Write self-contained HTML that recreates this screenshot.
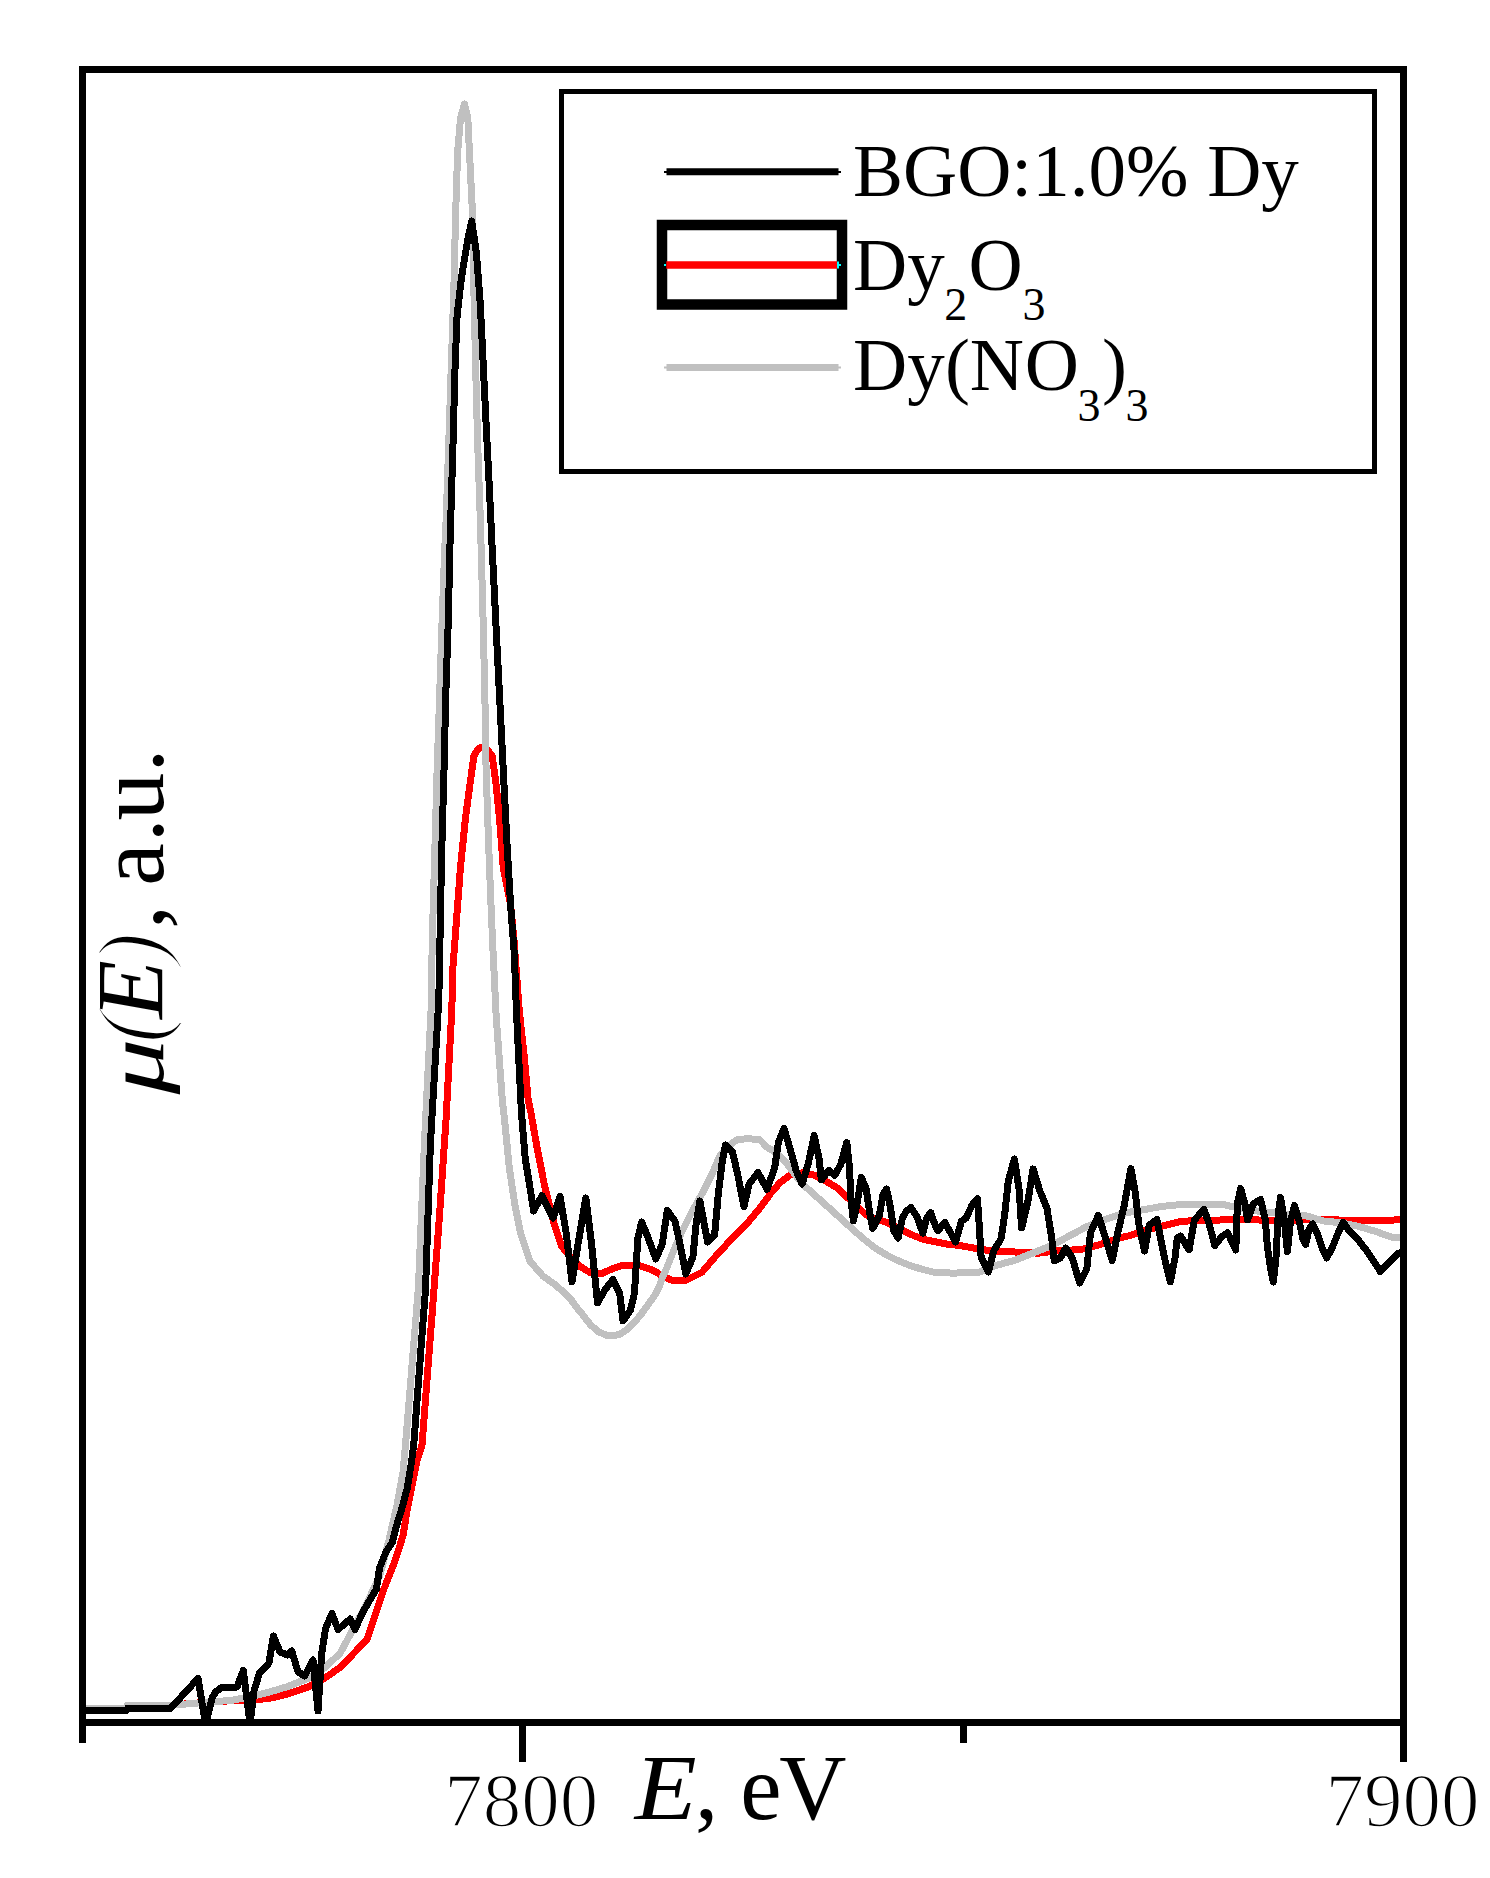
<!DOCTYPE html>
<html><head><meta charset="utf-8"><style>
html,body{margin:0;padding:0;background:#fff;width:1490px;height:1878px;overflow:hidden}
svg{display:block}
text{font-family:"Liberation Serif",serif;fill:#000}
</style></head><body>
<svg width="1490" height="1878" viewBox="0 0 1490 1878">
<defs><clipPath id="pc"><rect x="82.5" y="69.5" width="1321" height="1653"/></clipPath></defs>
<g clip-path="url(#pc)" shape-rendering="crispEdges" fill="none" stroke-linejoin="round" stroke-linecap="butt">
<polyline stroke="#ff0000" stroke-width="7" points="82,1708.5 126,1708.3 170,1705.4 191,1703.4 213,1701.9 230,1700.8 240,1700.8 269,1698.5 287.4,1694 308.9,1686.7 325,1678 340,1667.4 355,1652 366.8,1640 375.4,1614.6 383.9,1589 394.5,1562.4 403,1535.8 407.3,1509.2 412.6,1482.6 416.9,1461.3 422,1445 432.3,1311.8 439.5,1215.8 446,1120 451.8,1010 453,966.4 456.7,917.4 460.4,868.4 465.3,819.4 470.2,782.7 473.9,756 478,749 482,747 487,749 492.2,756 495.9,782.7 499.6,819.4 503.3,868.4 510.6,905 514,940 519.2,1010 524.2,1055.9 528.2,1100 530.8,1111.9 537.3,1149 544.7,1186.4 554,1223.7 561.5,1246 570.8,1257.3 580.2,1266.6 589.5,1272.2 600.7,1274 611.9,1269 623,1265 638,1265 652,1269.8 662.2,1275.6 671.1,1280 686.5,1280 701.8,1272.4 717.2,1254.5 735,1235.3 747.8,1222.5 760.6,1207.2 770.9,1193.1 779.8,1182.9 790,1175.2 802.1,1172.8 814.2,1175.2 826.2,1181.3 838.3,1188.5 846.8,1197 856.4,1205.4 864.9,1213.9 874.6,1218.7 886.6,1222.3 898.7,1228.4 910.8,1234.4 922.9,1239.3 935,1241.7 947,1244.1 960,1245.5 972.1,1247.8 990.2,1250.8 1014.4,1252 1038.5,1253.2 1056.6,1250.8 1080.8,1249.6 1098.9,1244.8 1117,1238.7 1130,1235.5 1146.1,1230 1162.2,1226.2 1178.3,1222 1194.4,1220.3 1237.4,1219.8 1290,1220.3 1321.9,1219.5 1371.6,1221 1406,1219.5"/>
<polyline stroke="#c0c0c0" stroke-width="7" points="82,1708 126,1708 127,1705.5 170,1705.5 191,1703.5 213,1702 233.7,1700 250,1696.8 266,1693 287.4,1686.7 308.9,1678 325,1667.4 340,1653.4 357,1622 367,1603 380,1575 389,1540 397,1505 403,1472 405.5,1445 418.4,1287.8 424.4,1143.9 431.3,1005 432.2,942 434.7,856 437.1,770.4 439.6,697 442,623.5 444.7,550 446.3,516 448.8,440.9 451.3,365.7 453.8,290.5 455.6,215.3 457.6,152.6 460.5,118 464.5,104 467.8,118 470.1,165.2 472.6,215.3 473.9,290.5 475.6,365.7 477.6,440.9 480.2,516 481.2,550 483.2,623.5 484.9,697 486.1,770.4 488.6,843.9 491,905 492.5,940 496.2,1016.7 502.3,1100 504.7,1121.2 509.3,1167.8 514.9,1205 520.5,1233 529.8,1261 542.9,1276 555.9,1285.2 570,1298.2 576.7,1307.6 583.4,1315.6 590.1,1324.4 598.2,1331.7 606.2,1335.1 613,1335.6 619.7,1334.4 627.7,1329 634.4,1322.3 641.1,1314.3 647.9,1304.9 654.6,1295.5 659.3,1286.8 662.6,1276.7 666,1269.8 673.7,1250.6 681.4,1232.7 691.6,1212.3 703.1,1191.8 712,1173.9 719.7,1156 728.7,1145.8 737.6,1139.4 747.8,1138.8 759.4,1139.4 767,1147.1 777.2,1153.5 784.9,1161.1 792.6,1171.4 802.1,1183.7 814.2,1194.6 826.2,1205.4 838.3,1216.3 850.4,1227.2 862.5,1238 874.6,1247.7 886.6,1255 898.7,1261 910.8,1265.8 922.9,1269.5 935,1272.5 953.1,1273.1 978.1,1272.5 996.2,1265.3 1014.4,1260.5 1032.5,1253.2 1050.6,1246 1068.7,1236.3 1086.8,1226.6 1105,1219.4 1123.1,1213.4 1140,1210.3 1162.2,1206.4 1183.7,1204.2 1205.2,1204.2 1224.5,1204.8 1248.1,1210.1 1269.6,1212.3 1290,1214.4 1306.2,1215.8 1323.6,1221 1341.1,1222.8 1358.5,1226.3 1376,1231.6 1393.4,1237.7 1406,1238.1"/>
<polyline stroke="#000" stroke-width="7" points="82,1710.2 127,1710.2 127.5,1708.4 170.6,1708.4 198,1678.5 205.5,1724 212.5,1697 216,1691.5 222.5,1687 237,1687 243.3,1670.5 250,1724 254,1691 259.5,1673 266,1667 269,1663 273.4,1636 280,1652 287.4,1655 291.7,1651 298,1671.7 304.6,1676 313,1660 318,1711 321.7,1653.4 325.5,1628.7 332,1613.5 338,1629.5 350.3,1619 355,1629.5 362.6,1612.5 370,1599.7 376.4,1589 379.6,1567.8 386,1551.8 392.4,1542.2 396.7,1525.2 402,1508 407.3,1488 411.6,1461.3 413.7,1445 425.6,1287.8 430.4,1143.9 438.8,1000 441.6,856 444,770.4 445.7,697 448.2,623.5 450.1,540 453.1,440.9 455.1,365.7 457.1,315.6 461.4,278 467.6,240.4 471.7,221 476.4,252.9 480.2,303 482.7,353.2 485.7,415.8 488.9,478.5 492.5,555 495.9,623.5 499.6,697 503.3,770.4 507,843.9 510.6,905 514.3,954 516.4,1010 518.6,1055.9 521.4,1111.9 525.2,1158.5 529.8,1186.4 533.6,1211 542,1195.7 553.1,1218 560,1196.5 566.2,1233 572,1282 578.3,1242.4 585.8,1198 591.4,1242.4 597.5,1303 604.9,1290 613,1279.5 619.7,1293.5 623,1321 630.4,1310.3 634.4,1293.5 637.9,1237.8 641.7,1222 648.1,1237.8 655.8,1259 662.2,1244.2 667.3,1210.5 675,1221.2 680,1244.2 685.8,1274 692.9,1257 696,1225 699.9,1201 704.4,1225 707.6,1242 714.6,1235.3 718.4,1193.1 722.3,1161.1 725.5,1145 732.5,1152.2 737.6,1173.9 744,1206.5 749.1,1184.1 758,1172.5 767,1189.3 774.7,1167.5 778.5,1142 784,1128.5 790,1148.4 796.4,1171.4 802.1,1184 808.1,1164.4 814.2,1135.5 819,1158.3 821.4,1180 828.7,1170.4 834.7,1175.2 840.7,1164.4 846.8,1142.5 849.8,1170.4 850.4,1194.6 853.4,1221 857.6,1200.6 861.3,1177.5 866.1,1188.5 869.7,1212.7 872.7,1228.5 879.4,1215.1 883,1194.6 886.6,1189 890.3,1206.6 893.9,1230.8 898.1,1238 902.3,1218.7 906,1211.5 910.8,1207.5 916.8,1216.3 922.9,1233.2 926.5,1218.7 930.7,1212.5 935,1224.8 938,1230.8 944.6,1222.3 949.5,1230.8 955.5,1242 961.5,1221.1 966,1218.2 972.1,1204.9 977.5,1198.5 979.3,1226.6 981.1,1256.8 988.4,1272 993.8,1250.8 1001.1,1238.7 1004.7,1214.6 1008.3,1180.7 1014.4,1159 1019.2,1190.4 1021.6,1228 1027.7,1202.5 1033.1,1169 1039.7,1190.4 1047,1208.5 1051.8,1238.7 1054.2,1261 1060.3,1258 1065.7,1248 1072.3,1258 1079.6,1283 1086.8,1268.9 1090.5,1232.7 1098.3,1215.5 1105,1236.3 1112.2,1260.5 1117,1236.3 1124.3,1204.9 1130.9,1168.5 1135.4,1193 1138.6,1223 1144.5,1251 1149.3,1225.2 1156.8,1219.5 1160.1,1236 1164.4,1257.4 1170.3,1282 1175.1,1257.4 1177.2,1238 1180.5,1236 1189.1,1249.9 1194.4,1219.8 1204.1,1209.5 1209.5,1225.2 1214.8,1245.6 1221.3,1237 1227.7,1232.7 1235.8,1249.9 1237.4,1203.7 1240.6,1188.5 1244.9,1203.7 1247.6,1219.8 1253.5,1203.7 1260.5,1199.4 1265.3,1219.8 1267.4,1246.6 1270.7,1269.2 1273.4,1282 1276,1257.4 1278.2,1214.4 1280.5,1197.5 1284.4,1221 1287.4,1251.5 1290.5,1221 1294.4,1205.5 1299.2,1221 1302.7,1238.5 1305.7,1244.5 1308.8,1229.8 1312.7,1224 1317.5,1234.2 1321.9,1247.3 1326.7,1258 1332.4,1247.3 1337.6,1234.2 1343.3,1222.5 1349.8,1231.6 1358.5,1240.3 1367.3,1251.6 1376,1264.7 1380.3,1271.5 1389.1,1262.1 1397.8,1253.4 1406,1251.5"/>
</g>
<!-- frame -->
<rect x="82.5" y="69.5" width="1321" height="1653" fill="none" stroke="#000" stroke-width="7"/>
<!-- ticks -->
<g stroke="#000" stroke-width="7">
<line x1="82.5" y1="1722" x2="82.5" y2="1743"/>
<line x1="522.5" y1="1722" x2="522.5" y2="1762"/>
<line x1="963.5" y1="1722" x2="963.5" y2="1743"/>
<line x1="1403.5" y1="1722" x2="1403.5" y2="1762"/>
</g>
<!-- legend -->
<rect x="561.5" y="91.5" width="813" height="380" fill="#fff" stroke="#000" stroke-width="5"/>
<line x1="666.5" y1="171.8" x2="838.5" y2="171.8" stroke="#000" stroke-width="7"/><rect x="664" y="171" width="3" height="2"/><rect x="838" y="171" width="3" height="2"/>
<rect x="662" y="225" width="180" height="79.5" fill="none" stroke="#000" stroke-width="10.5"/>
<line x1="666.3" y1="264.9" x2="837" y2="264.9" stroke="#ff0000" stroke-width="7.5"/><rect x="664" y="264" width="2" height="2" fill="#0ff"/><rect x="837" y="261.5" width="2" height="7" fill="#0ff"/><rect x="839" y="264" width="2" height="2" fill="#0ff"/>
<line x1="666.5" y1="367.5" x2="838.5" y2="367.5" stroke="#c0c0c0" stroke-width="7"/><rect x="664" y="366.5" width="3" height="2" fill="#c0c0c0"/><rect x="838" y="366.5" width="3" height="2" fill="#c0c0c0"/>
<text x="853" y="196" font-size="75">BGO:1.0% Dy</text>
<text font-size="75"><tspan x="853" y="289.5">Dy</tspan><tspan font-size="46" x="944.2" y="320">2</tspan><tspan x="968.4" y="289.5">O</tspan><tspan font-size="46" x="1022.6" y="320">3</tspan></text>
<text font-size="75"><tspan x="853" y="389.5">Dy</tspan><tspan x="945.1 969.7 1024.8" y="389.5">(NO</tspan><tspan font-size="46" x="1077.5" y="420.5">3</tspan><tspan x="1101.9" y="389.5">)</tspan><tspan font-size="46" x="1125.5" y="420.5">3</tspan></text>
<!-- axis labels -->
<g stroke="#fff" stroke-width="1.7"><text x="444.3" y="1826" font-size="77">7800</text>
<text x="1325.6" y="1826" font-size="77">7900</text></g>
<text font-size="93" font-style="italic" transform="translate(634.8,1819.3) scale(1.09,1)">E</text><text y="1819.3" font-size="93" x="695 740.2 779.3">,eV</text>
<g transform="translate(163,0) rotate(-90)">
<text font-size="96" y="0" font-style="italic" stroke="#fff" stroke-width="3"><tspan x="-1043.6">(</tspan><tspan x="-964.2">)</tspan></text>
<text font-size="96" transform="translate(-1094.4,0) scale(1.16,0.84)" font-style="italic">μ</text><text font-size="96" y="0"><tspan font-style="italic" x="-1018.8">E</tspan><tspan x="-929 -885.8 -842.3 -820.5 -772.4">,a.u.</tspan></text>
</g>
</svg>
</body></html>
